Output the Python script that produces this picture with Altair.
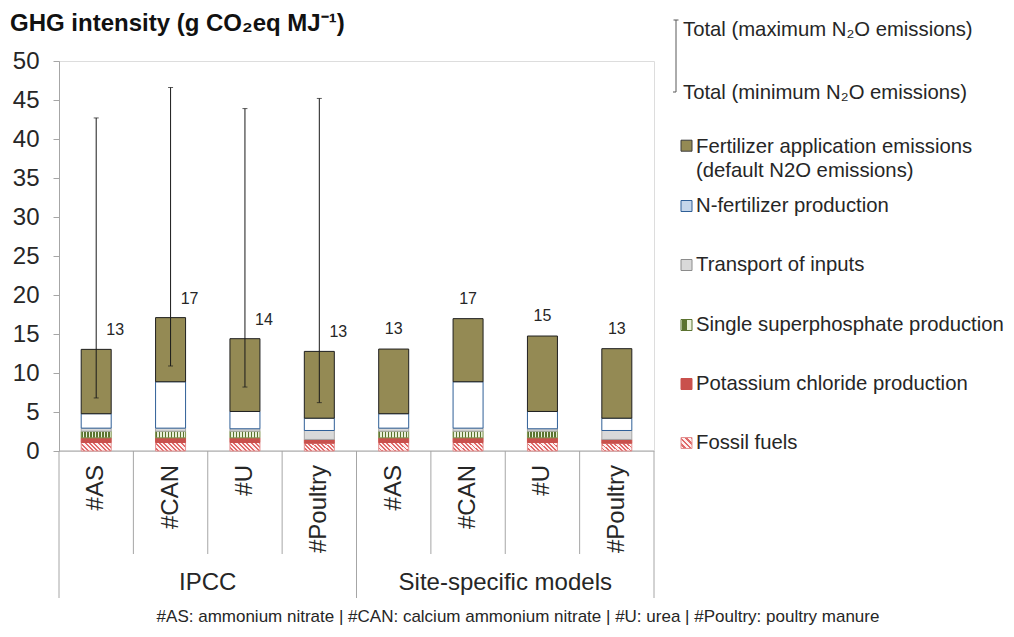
import altair as alt
import pandas as pd

# ---------------- data ----------------
groups = ["IPCC"] * 4 + ["Site-specific models"] * 4
fertilizers = ["#AS", "#CAN", "#U", "#Poultry"] * 2
components = [
    "Fossil fuels",
    "Potassium chloride production",
    "Single superphosphate production",
    "Transport of inputs",
    "N-fertilizer production",
    "Fertilizer application emissions",
]
fossil_fuels = [1.09, 1.09, 1.09, 1.00, 1.09, 1.09, 1.09, 1.00]
potassium_chloride = [0.60, 0.60, 0.60, 0.48, 0.60, 0.60, 0.60, 0.48]
single_superphosphate = [0.85, 0.85, 0.85, 0.00, 0.85, 0.85, 0.85, 0.00]
transport_inputs = [0.39, 0.39, 0.31, 1.15, 0.39, 0.39, 0.31, 1.15]
n_fertilizer_production = [1.85, 5.95, 2.22, 1.58, 1.85, 5.95, 2.22, 1.58]
fertilizer_application = [8.25, 8.22, 9.33, 8.56, 8.29, 8.09, 9.67, 8.91]

ipcc_total_min_n2o = [6.8, 10.9, 8.2, 6.2]
ipcc_total_max_n2o = [42.7, 46.6, 43.9, 45.2]

y_ticks = [0, 5, 10, 15, 20, 25, 30, 35, 40, 45, 50]
title_text = "GHG intensity (g CO\u2082eq MJ\u207b\u00b9)"
legend_max = "Total (maximum N\u2082O emissions)"
legend_min = "Total (minimum N\u2082O emissions)"
legend_labels = [
    "Fertilizer application emissions\n(default  N2O emissions)",
    "N-fertilizer production",
    "Transport of inputs",
    "Single superphosphate production",
    "Potassium chloride production",
    "Fossil fuels",
]
footnote = "#AS: ammonium nitrate | #CAN: calcium ammonium nitrate | #U: urea | #Poultry: poultry manure"

# ---------------- tables ----------------
keys = [f"{g}|{f}" for g, f in zip(groups, fertilizers)]
series = [fossil_fuels, potassium_chloride, single_superphosphate,
          transport_inputs, n_fertilizer_production, fertilizer_application]
rows = []
for i, k in enumerate(keys):
    base = 0.0
    for comp, vals in zip(components, series):
        rows.append(dict(key=k, group=groups[i], fert=fertilizers[i],
                         component=comp, y0=base, y1=base + vals[i]))
        base += vals[i]
stack = pd.DataFrame(rows)
totals = pd.DataFrame({
    "key": keys, "group": groups, "fert": fertilizers,
    "total": [sum(s[i] for s in series) for i in range(len(keys))],
})
err = pd.DataFrame({"key": keys[:4], "lo": ipcc_total_min_n2o, "hi": ipcc_total_max_n2o})

# ---------------- styles ----------------
FONT = "Liberation Sans"
TXT = "#262626"
GRID = "#a6a6a6"
LEG_FS = 20.3


def stripes(n, c1, c2, frac, x1, y1, x2, y2):
    stops = []
    for i in range(n):
        a, m, b = i / n, (i + frac) / n, (i + 1) / n
        stops += [{"offset": a, "color": c1}, {"offset": m, "color": c1},
                  {"offset": m, "color": c2}, {"offset": b, "color": c2}]
    return {"gradient": "linear", "x1": x1, "y1": y1, "x2": x2, "y2": y2, "stops": stops}


hatch_bar = stripes(9, "#fdf0f0", "#e06a6a", 0.55, 0, 1, 1.2, 0.652)
hatch_leg = stripes(4, "#fdf0f0", "#e06a6a", 0.55, 0, 1, 1, 0)
ssp_fill = stripes(10, "#5b7330", "#e9f0da", 0.45, 0, 0, 1, 0)

bar_styles = {
    "Fossil fuels": (hatch_bar, "#e39090"),
    "Potassium chloride production": ("#c9504c", "#c9504c"),
    "Single superphosphate production": (ssp_fill, "#7f9450"),
    "Transport of inputs": ("#d9d9d9", "#a6a6a6"),
    "N-fertilizer production": ("#ffffff", "#2f5f97"),
    "Fertilizer application emissions": ("#948a54", "#1f1f1f"),
}
legend_styles = [
    ("#948a54", "#3a3a3a"),
    ("#c5d6ea", "#2f5f97"),
    ("#d9d9d9", "#8c8c8c"),
    (ssp_fill, "#5b7330"),
    ("#c9504c", "#c9504c"),
    (hatch_leg, "#e39090"),
]
legend_y = [84.7, 145, 204, 264, 323, 382]

xs = alt.Scale(domain=keys, paddingInner=0, paddingOuter=0)
ys = alt.Scale(domain=[0, 50], nice=False, zero=True)
yaxis = alt.Axis(values=y_ticks, title=None, grid=False, domainColor=GRID,
                 tickColor=GRID, tickSize=6, labelFontSize=24, labelFont=FONT,
                 labelColor=TXT, labelPadding=14)
X = alt.X("key:N", scale=xs, axis=None)

layers = []

# baseline
one = pd.DataFrame({"a": [0]})
layers.append(alt.Chart(one).mark_rule(color=GRID, strokeWidth=1).encode(
    x=alt.value(0), x2=alt.value(595), y=alt.value(390)))

# stacked bars
for comp in components:
    fill, stroke = bar_styles[comp]
    layers.append(
        alt.Chart(stack)
        .transform_filter(alt.FieldEqualPredicate(field="component", equal=comp))
        .transform_filter("datum.y1 > datum.y0")
        .mark_bar(width=30, fill=fill, stroke=stroke, strokeWidth=1)
        .encode(x=X, y=alt.Y("y1:Q", scale=ys, axis=yaxis), y2="y0:Q")
    )

# error bars (IPCC)
layers.append(alt.Chart(err).mark_rule(color="#1a1a1a", strokeWidth=1).encode(
    x=X, y=alt.Y("lo:Q", scale=ys, axis=yaxis), y2="hi:Q"))
for f in ["lo", "hi"]:
    layers.append(alt.Chart(err).mark_tick(color="#1a1a1a", size=5, thickness=1).encode(
        x=X, y=alt.Y(f"{f}:Q", scale=ys, axis=yaxis)))

# value labels
layers.append(
    alt.Chart(totals).transform_filter("datum.group == 'IPCC'")
    .mark_text(dx=19, dy=-19, fontSize=16, font=FONT, color=TXT)
    .encode(x=X, y=alt.Y("total:Q", scale=ys, axis=yaxis),
            text=alt.Text("total:Q", format=".0f")))
layers.append(
    alt.Chart(totals).transform_filter("datum.group != 'IPCC'")
    .mark_text(dy=-20, fontSize=16, font=FONT, color=TXT)
    .encode(x=X, y=alt.Y("total:Q", scale=ys, axis=yaxis),
            text=alt.Text("total:Q", format=".0f")))

# category dividers
layers.append(
    alt.Chart(totals).transform_filter("datum.fert != '#AS'")
    .mark_rule(color=GRID, strokeWidth=1)
    .encode(x=alt.X("key:N", scale=xs, axis=None, bandPosition=0),
            y=alt.value(390), y2=alt.value(493)))
layers.append(
    alt.Chart(totals).transform_filter("datum.fert == '#AS'")
    .mark_rule(color=GRID, strokeWidth=1)
    .encode(x=alt.X("key:N", scale=xs, axis=None, bandPosition=0),
            y=alt.value(390), y2=alt.value(537)))
layers.append(
    alt.Chart(totals).transform_filter(alt.FieldEqualPredicate(field="key", equal=keys[-1]))
    .mark_rule(color=GRID, strokeWidth=1)
    .encode(x=alt.X("key:N", scale=xs, axis=None, bandPosition=1),
            y=alt.value(390), y2=alt.value(537)))

# category labels
layers.append(
    alt.Chart(totals)
    .mark_text(angle=270, align="right", baseline="middle", fontSize=24, font=FONT, color=TXT)
    .encode(x=X, y=alt.value(404), text="fert:N"))
# group labels
layers.append(
    alt.Chart(totals).transform_filter("datum.fert == '#CAN'")
    .mark_text(align="center", baseline="middle", fontSize=24, font=FONT, color=TXT)
    .encode(x=alt.X("key:N", scale=xs, axis=None, bandPosition=1),
            y=alt.value(522), text="group:N"))

# title
layers.append(alt.Chart(pd.DataFrame({"t": [title_text]})).mark_text(
    align="left", baseline="alphabetic", fontSize=24, fontWeight="bold", font=FONT, color="#111111"
).encode(x=alt.value(-49), y=alt.value(-30), text="t:N"))

# footnote
layers.append(alt.Chart(pd.DataFrame({"t": [footnote]})).mark_text(
    align="center", baseline="middle", fontSize=17, font=FONT, color=TXT
).encode(x=alt.value(459), y=alt.value(556), text="t:N"))

# legend: error bar
layers.append(alt.Chart(one).mark_rule(color="#595959", strokeWidth=1).encode(
    x=alt.value(617), y=alt.value(-41), y2=alt.value(31)))
layers.append(alt.Chart(one).mark_rule(color="#595959", strokeWidth=1).encode(
    x=alt.value(614.5), x2=alt.value(619.5), y=alt.value(-41)))
layers.append(alt.Chart(one).mark_rule(color="#595959", strokeWidth=1).encode(
    x=alt.value(614), x2=alt.value(617), y=alt.value(31)))
for txt, yy in [(legend_max, -31), (legend_min, 32)]:
    layers.append(alt.Chart(pd.DataFrame({"t": [txt]})).mark_text(
        align="left", baseline="middle", fontSize=LEG_FS, font=FONT, color=TXT
    ).encode(x=alt.value(624), y=alt.value(yy), text="t:N"))

# legend: components
for lab, (fill, stroke), yc in zip(legend_labels, legend_styles, legend_y):
    layers.append(alt.Chart(one).mark_rect(fill=fill, stroke=stroke, strokeWidth=1).encode(
        x=alt.value(622), x2=alt.value(633), y=alt.value(yc - 5.5), y2=alt.value(yc + 5.5)))
    if "\n" in lab:
        layers.append(alt.Chart(pd.DataFrame({"t": [lab]})).mark_text(
            align="left", baseline="alphabetic", fontSize=LEG_FS, font=FONT, color=TXT,
            lineBreak="\n", lineHeight=24
        ).encode(x=alt.value(637), y=alt.value(yc + 7.3), text="t:N"))
    else:
        layers.append(alt.Chart(pd.DataFrame({"t": [lab]})).mark_text(
            align="left", baseline="middle", fontSize=LEG_FS, font=FONT, color=TXT
        ).encode(x=alt.value(637), y=alt.value(yc), text="t:N"))

chart = (
    alt.layer(*layers)
    .properties(width=595, height=390,
                padding={"left": 51, "top": 53, "right": 352, "bottom": 178},
                autosize=alt.AutoSizeParams(type="none"))
    .configure_view(stroke=None)
    .configure(background="white")
)
chart.save("out.html", embed_options={"renderer": "svg", "actions": False})
